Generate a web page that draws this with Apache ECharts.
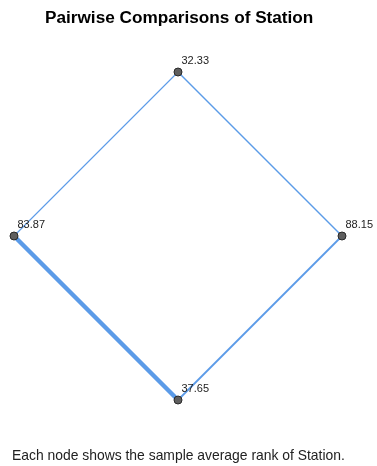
<!DOCTYPE html>
<html>
<head>
<meta charset="utf-8">
<script src="https://cdn.jsdelivr.net/npm/echarts@6/dist/echarts.min.js"></script>
<style>
html,body{margin:0;padding:0;background:#fff;}
#chart{width:377px;height:466px;}
</style>
</head>
<body>
<div id="chart"></div>
<script>
// Data
var nodeIds = ['S1', 'S2', 'S3', 'S4'];
var avgRank = [32.33, 83.87, 88.15, 37.65];
// layout coordinates (diamond arrangement, data units)
var nodeX = [0, -1, 1, 0];
var nodeY = [1, 0, 0, -1];
var edgeSource = ['S2', 'S1', 'S3', 'S1'];
var edgeTarget = ['S4', 'S3', 'S4', 'S2'];
var edgeStrength = [4.5, 1.5, 1.8, 1.1];

var titleText = 'Pairwise Comparisons of Station';
var footText = 'Each node shows the sample average rank of Station.';

var edgeColor = '#5b9be8';
var nodes = nodeIds.map(function (id, i) {
  return { name: id, value: [nodeX[i], nodeY[i]] };
});
var links = edgeSource.map(function (s, i) {
  return { source: s, target: edgeTarget[i],
    lineStyle: { width: edgeStrength[i], color: edgeColor, opacity: 1 } };
});

var chart = echarts.init(document.getElementById('chart'), null, { renderer: 'canvas' });
chart.setOption({
  animation: false,
  backgroundColor: '#ffffff',
  title: [
    { text: titleText, left: 40, top: 5,
      textStyle: { fontFamily: 'Liberation Sans, Arial, sans-serif', fontSize: 17.2, fontWeight: 'bold', color: '#000' } },
    { text: footText, left: 7, top: 444,
      textStyle: { fontFamily: 'Liberation Sans, Arial, sans-serif', fontSize: 13.9, fontWeight: 'normal', color: '#222' } }
  ],
  grid: { left: 14, right: 35, top: 72, bottom: 66 },
  xAxis: { type: 'value', min: -1, max: 1, show: false },
  yAxis: { type: 'value', min: -1, max: 1, show: false },
  series: [{
    type: 'graph',
    coordinateSystem: 'cartesian2d',
    layout: 'none',
    symbol: 'circle',
    symbolSize: 8,
    itemStyle: { color: '#5f5f5f', borderColor: '#2a2a2a', borderWidth: 1 },
    lineStyle: { color: edgeColor, opacity: 1, curveness: 0 },
    label: {
      show: true,
      position: [8, -12],
      align: 'left',
      verticalAlign: 'top',
      fontFamily: 'Liberation Sans, Arial, sans-serif',
      fontSize: 11,
      color: '#222',
      formatter: function (p) { return avgRank[p.dataIndex].toFixed(2); }
    },
    emphasis: { disabled: true },
    data: nodes,
    links: links
  }]
});
</script>
</body>
</html>
